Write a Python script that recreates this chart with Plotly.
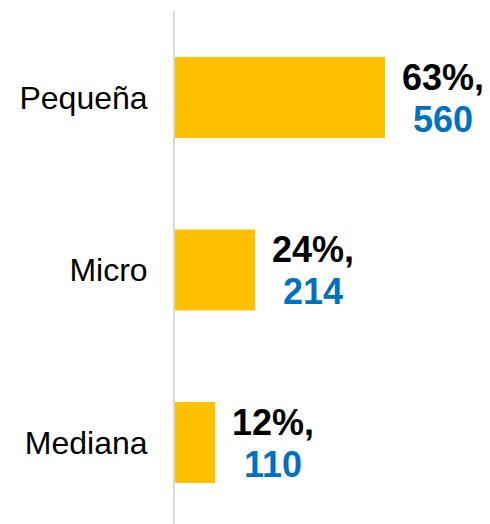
import plotly.graph_objects as go

categories = ["Mediana", "Micro", "Pequeña"]
percentages = [12, 24, 63]
counts = [110, 214, 560]

bar_color = "#FFC000"
count_color = "#0070C0"
font_family = "Liberation Sans, Arial, sans-serif"

fig = go.Figure(
    go.Bar(
        x=percentages,
        y=categories,
        orientation="h",
        marker=dict(color=bar_color, line=dict(width=0)),
        width=0.47,
        hoverinfo="skip",
    )
)

for cat, p, c in zip(categories, percentages, counts):
    fig.add_annotation(
        x=p, y=cat, xref="x", yref="y",
        text=f"<b>{p}%,</b>",
        showarrow=False, xanchor="center", yanchor="middle", xshift=58, yshift=20,
        font=dict(family=font_family, size=36, color="#000000"),
    )
    fig.add_annotation(
        x=p, y=cat, xref="x", yref="y",
        text=f"<b>{c}</b>",
        showarrow=False, xanchor="center", yanchor="middle", xshift=58, yshift=-22,
        font=dict(family=font_family, size=36, color=count_color),
    )

fig.update_layout(
    width=482, height=516,
    margin=dict(l=167, r=0, t=3, b=0),
    paper_bgcolor="white", plot_bgcolor="white",
    showlegend=False,
    font=dict(family=font_family),
    xaxis=dict(range=[0, 94.5], visible=False, showgrid=False, zeroline=False, fixedrange=True),
    yaxis=dict(
        type="category",
        categoryorder="array", categoryarray=categories,
        range=[-0.4725, 2.5014],
        showline=True, linecolor="#D9D9D9", linewidth=2,
        showgrid=False, zeroline=False, ticks="",
        ticklabelstandoff=19,
        tickfont=dict(family=font_family, size=32, color="#000000"),
        fixedrange=True,
    ),
)

fig.write_html("out.html")
